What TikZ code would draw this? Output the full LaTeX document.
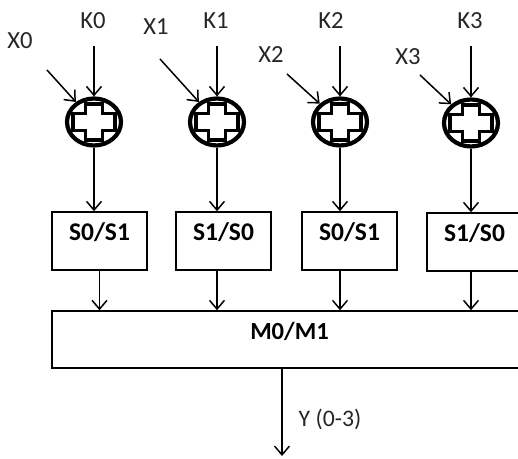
\documentclass[tikz,border=0pt]{standalone}
\usepackage{fontspec}
\setmainfont{Carlito}
\usetikzlibrary{arrows.meta,shapes.geometric}

\newcommand{\pluscross}[1]{\draw[line width=2pt,fill=white,shift={(#1)}] (-8.5,-18) -- (8.5,-18) -- (8.5,-8.5) -- (21,-8.5) -- (21,8.5) -- (8.5,8.5) -- (8.5,18) -- (-8.5,18) -- (-8.5,8.5) -- (-21,8.5) -- (-21,-8.5) -- (-8.5,-8.5) -- cycle;}

\begin{document}
\begin{tikzpicture}[x=0.02cm,y=-0.02cm,
  arr/.style={draw=black,line width=0.85pt,-{Straight Barb[length=5pt,width=8.5pt]}},
  xorgate/.style={ellipse,draw=black,line width=2.4pt,fill=white,minimum width=1.08cm,minimum height=0.94cm,inner sep=0pt},
  sbox/.style={draw=black,line width=0.85pt,fill=white,minimum width=1.9cm,minimum height=1.16cm,inner sep=0pt,text height=9.5pt,text depth=10pt,font=\fontsize{14.5}{17}\selectfont\bfseries},
  lbl/.style={font=\fontsize{14}{17}\selectfont,text=black!85}]
\useasboundingbox (0,0) rectangle (518,459);
\clip (0,0) rectangle (518,459);
\node[lbl] (k0) at (93,21) {K0};
\node[lbl] (k1) at (216,21) {K1};
\node[lbl] (k2) at (331,21) {K2};
\node[lbl] (k3) at (470,21) {K3};
\node[lbl] (x0) at (20,41) {X0};
\node[lbl] (x1) at (156,27) {X1};
\node[lbl] (x2) at (271,55) {X2};
\node[lbl] (x3) at (408,57) {X3};
\node[xorgate] (xor0) at (94,122) {};
\node[xorgate] (xor1) at (217,122) {};
\node[xorgate] (xor2) at (340,122) {};
\node[xorgate] (xor3) at (471,123) {};
\pluscross{xor0}
\pluscross{xor1}
\pluscross{xor2}
\pluscross{xor3}
\coordinate (ks0) at (94,46);
\coordinate (ks1) at (217,46);
\coordinate (ks2) at (340,46);
\coordinate (ks3) at (471,46);
\coordinate (xs0) at (47,70);
\coordinate (xs1) at (160,59);
\coordinate (xs2) at (287,74);
\coordinate (xs3) at (420,75);
\draw[arr] (ks0) -- (xor0);
\draw[arr] (ks1) -- (xor1);
\draw[arr] (ks2) -- (xor2);
\draw[arr] (ks3) -- (xor3);
\draw[arr] (xs0) -- (xor0);
\draw[arr] (xs1) -- (xor1);
\draw[arr] (xs2) -- (xor2);
\draw[arr] (xs3) -- (xor3);
\node[sbox] (sb0) at (99.5,241) {S0/S1};
\node[sbox] (sb1) at (223.5,241) {S1/S0};
\node[sbox] (sb2) at (349.5,241) {S0/S1};
\node[sbox] (sb3) at (474.5,242) {S1/S0};
\draw[arr] (xor0) -- (xor0 |- sb0.north);
\draw[arr] (xor1) -- (xor1 |- sb1.north);
\draw[arr] (xor2) -- (xor2 |- sb2.north);
\draw[arr] (xor3) -- (xor3 |- sb3.north);
\node[sbox,minimum width=9.5cm,minimum height=1.14cm,font=\fontsize{14}{17}\selectfont\bfseries] (mix) at (289.5,339.5) {M0/M1};
\draw[arr] (sb0.south) -- (sb0 |- mix.north);
\draw[arr] (sb1.south -| xor1) -- (xor1 |- mix.north);
\draw[arr] (sb2.south -| xor2) -- (xor2 |- mix.north);
\draw[arr] (sb3.south -| xor3) -- (xor3 |- mix.north);
\coordinate (yout) at (282,456);
\draw[arr] (mix.south -| yout) -- (yout);
\node[lbl,font=\fontsize{13.5}{16}\selectfont] (ylab) at (330,419) {Y (0-3)};
\end{tikzpicture}
\end{document}
